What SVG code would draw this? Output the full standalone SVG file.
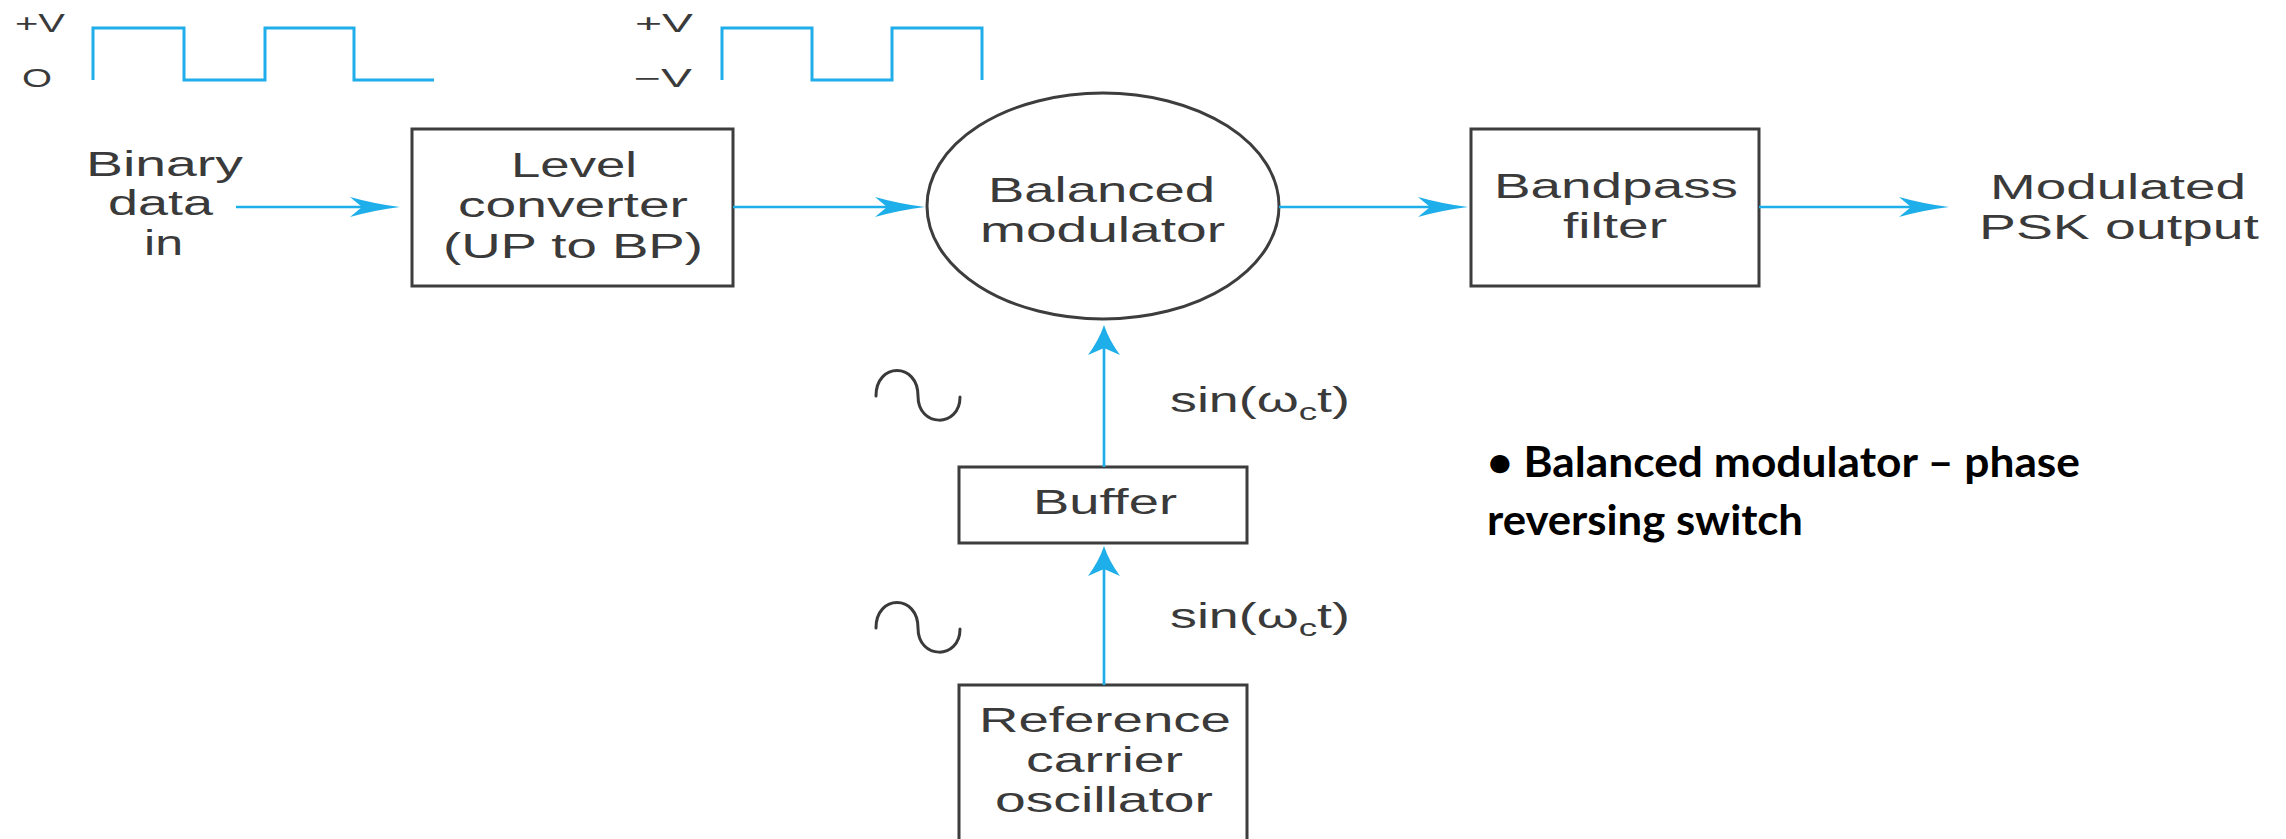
<svg xmlns="http://www.w3.org/2000/svg" width="2286" height="839" viewBox="0 0 2286 839">
  <style>
    .box { fill: #ffffff; stroke: #3d3d3d; stroke-width: 3; }
    .lbl { font-family: "Liberation Sans", Arial, sans-serif; font-size: 35px; fill: #3a3a3a; }
    .sig { font-family: "Liberation Sans", Arial, sans-serif; font-size: 25px; fill: #3a3a3a; }
    .wave { fill: none; stroke: #1eaeea; stroke-width: 3; stroke-linejoin: miter; }
    .sine { fill: none; stroke: #3a3a3a; stroke-width: 3; stroke-linecap: round; }
    .conn { fill: none; stroke: #1eaeea; stroke-width: 2.7; }
    .note { font-family: Lato, "Open Sans", sans-serif; font-weight: 700; font-size: 42px; fill: #000000; }
  </style>
  <defs>
    <!-- barbed head, long along the line: used on horizontal runs -->
    <marker id="arrowH" markerUnits="userSpaceOnUse" viewBox="-52 -12 54 24" markerWidth="54" markerHeight="24" refX="-38" refY="0" orient="auto">
      <path d="M0,0 Q-25,-3 -50,-10 L-38,0 L-50,10 Q-25,3 0,0 Z" fill="#1eaeea"/>
    </marker>
    <!-- barbed head, wide across the line: used on vertical runs -->
    <marker id="arrowV" markerUnits="userSpaceOnUse" viewBox="-32 -18 34 36" markerWidth="34" markerHeight="36" refX="-23" refY="0" orient="auto">
      <path d="M0,0 Q-15,-5 -30,-16 L-23,0 L-30,16 Q-15,5 0,0 Z" fill="#1eaeea"/>
    </marker>
  </defs>

  <rect width="2286" height="839" fill="#ffffff"/>

  <!-- unipolar input waveform -->
  <g id="wave-unipolar">
    <text class="sig" x="15" y="32" textLength="50" lengthAdjust="spacingAndGlyphs">+V</text>
    <text class="sig" x="22" y="87" textLength="30" lengthAdjust="spacingAndGlyphs">O</text>
    <path class="wave" d="M93,80 V28 H184 V80 H265 V28 H354 V80 H434"/>
  </g>

  <!-- bipolar waveform after level conversion -->
  <g id="wave-bipolar">
    <text class="sig" x="635" y="32" textLength="58" lengthAdjust="spacingAndGlyphs">+V</text>
    <text class="sig" x="634" y="87" textLength="58" lengthAdjust="spacingAndGlyphs">−V</text>
    <path class="wave" d="M722,80 V28 H812 V80 H892 V28 H982 V80"/>
  </g>

  <g id="binary-in">
    <text class="lbl" x="86" y="176" textLength="157" lengthAdjust="spacingAndGlyphs">Binary</text>
    <text class="lbl" x="108" y="215" textLength="105" lengthAdjust="spacingAndGlyphs">data</text>
    <text class="lbl" x="144" y="255" textLength="39" lengthAdjust="spacingAndGlyphs">in</text>
  </g>

  <g id="level-converter">
    <rect class="box" x="412" y="129" width="321" height="157"/>
    <text class="lbl" x="511" y="177" textLength="126" lengthAdjust="spacingAndGlyphs">Level</text>
    <text class="lbl" x="458" y="217" textLength="230" lengthAdjust="spacingAndGlyphs">converter</text>
    <text class="lbl" x="443" y="258" textLength="260" lengthAdjust="spacingAndGlyphs">(UP to BP)</text>
  </g>

  <g id="balanced-modulator">
    <ellipse class="box" cx="1103" cy="206" rx="176" ry="113" stroke-width="2.7"/>
    <text class="lbl" x="988" y="202" textLength="227" lengthAdjust="spacingAndGlyphs">Balanced</text>
    <text class="lbl" x="980" y="242" textLength="245" lengthAdjust="spacingAndGlyphs">modulator</text>
  </g>

  <g id="bandpass-filter">
    <rect class="box" x="1471" y="129" width="288" height="157"/>
    <text class="lbl" x="1494" y="198" textLength="244" lengthAdjust="spacingAndGlyphs">Bandpass</text>
    <text class="lbl" x="1563" y="238" textLength="104" lengthAdjust="spacingAndGlyphs">filter</text>
  </g>

  <g id="psk-output">
    <text class="lbl" x="1990" y="199" textLength="256" lengthAdjust="spacingAndGlyphs">Modulated</text>
    <text class="lbl" x="1979" y="239" textLength="280" lengthAdjust="spacingAndGlyphs">PSK output</text>
  </g>

  <g id="buffer">
    <rect class="box" x="959" y="467" width="288" height="76"/>
    <text class="lbl" x="1033" y="514" textLength="144" lengthAdjust="spacingAndGlyphs">Buffer</text>
  </g>

  <g id="reference-oscillator">
    <rect class="box" x="959" y="685" width="288" height="200"/>
    <text class="lbl" x="979" y="732" textLength="252" lengthAdjust="spacingAndGlyphs">Reference</text>
    <text class="lbl" x="1026" y="772" textLength="157" lengthAdjust="spacingAndGlyphs">carrier</text>
    <text class="lbl" x="995" y="812" textLength="218" lengthAdjust="spacingAndGlyphs">oscillator</text>
  </g>

  <!-- carrier annotations -->
  <g id="carrier-upper">
    <path class="sine" d="M876,396 C876,362 918,362 918,396 C918,428 960,428 960,397"/>
    <text class="lbl" x="1170" y="412" textLength="180" lengthAdjust="spacingAndGlyphs">sin(ω<tspan font-size="24" dy="8">c</tspan><tspan dy="-8">t)</tspan></text>
  </g>
  <g id="carrier-lower">
    <path class="sine" d="M876,628 C876,594 918,594 918,628 C918,660 960,660 960,629"/>
    <text class="lbl" x="1170" y="628" textLength="180" lengthAdjust="spacingAndGlyphs">sin(ω<tspan font-size="24" dy="8">c</tspan><tspan dy="-8">t)</tspan></text>
  </g>

  <g id="connectors">
    <line class="conn" x1="236" y1="207" x2="362" y2="207" marker-end="url(#arrowH)"/>
    <line class="conn" x1="733" y1="207" x2="887" y2="207" marker-end="url(#arrowH)"/>
    <line class="conn" x1="1279" y1="207" x2="1430" y2="207" marker-end="url(#arrowH)"/>
    <line class="conn" x1="1759" y1="207" x2="1911" y2="207" marker-end="url(#arrowH)"/>
    <line class="conn" x1="1104" y1="467" x2="1104" y2="348" marker-end="url(#arrowV)"/>
    <line class="conn" x1="1104" y1="685" x2="1104" y2="569" marker-end="url(#arrowV)"/>
  </g>

  <g id="note">
    <text class="note" x="1487" y="477" textLength="593" lengthAdjust="spacingAndGlyphs">• Balanced modulator – phase</text>
    <text class="note" x="1487" y="535" textLength="316" lengthAdjust="spacingAndGlyphs">reversing switch</text>
  </g>
</svg>
